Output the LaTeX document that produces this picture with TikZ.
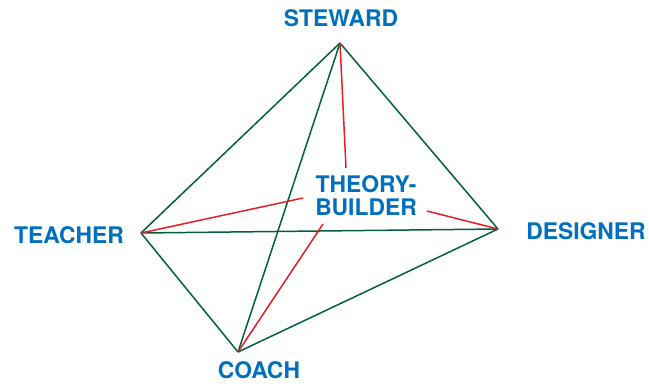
\documentclass[tikz,border=0pt]{standalone}
\usepackage{fontspec}
\setmainfont{TeX Gyre Heros}
\usepackage{xcolor}
\usetikzlibrary{positioning}
\definecolor{roleblue}{RGB}{0,112,190}
\definecolor{edgegreen}{RGB}{0,96,56}
\definecolor{linkred}{RGB}{228,30,38}
\tikzset{
  role/.style={text=roleblue, font=\fontsize{13}{13}\selectfont\bfseries, inner sep=0pt, align=center},
  edge/.style={draw=edgegreen, line width=0.85pt},
  link/.style={draw=linkred, line width=0.85pt},
}
\begin{document}
\begin{tikzpicture}[x=0.02cm, y=-0.02cm]
          \useasboundingbox (0,0) rectangle (649,386);
          % corners of the tetrahedron
          \coordinate (steward) at (340,43);
          \coordinate (teacher) at (141,233);
          \coordinate (designer) at (498,229);
          \coordinate (coach) at (238,352);

          \node[role] (lsteward) at (341,18.5) {STEWARD};
          \node[role] (lteacher) at (69,235.5) {TEACHER};
          \node[role] (ldesigner) at (586,231) {DESIGNER};
          \node[role] (lcoach) at (259,370.5) {COACH};
          \node[role] (theory) at (366,195.5) {THEORY-\\BUILDER};

          % ends of the red links near the centre
          \coordinate (tsteward) at (346,168);
          \coordinate (tteacher) at (303,198);
          \coordinate (tdesigner) at (427,211);
          \coordinate (tcoach) at (323,224);

          \draw[edge] (steward) -- (teacher);
          \draw[edge] (steward) -- (designer);
          \draw[edge] (steward) -- (coach);
          \draw[edge] (teacher) -- (coach);
          \draw[edge] (coach) -- (designer);
          \draw[edge] (teacher) -- (designer);

          \draw[link] (steward) -- (tsteward);
          \draw[link] (teacher) -- (tteacher);
          \draw[link] (designer) -- (tdesigner);
          \draw[link] (coach) -- (tcoach);
        \end{tikzpicture}
\end{document}
